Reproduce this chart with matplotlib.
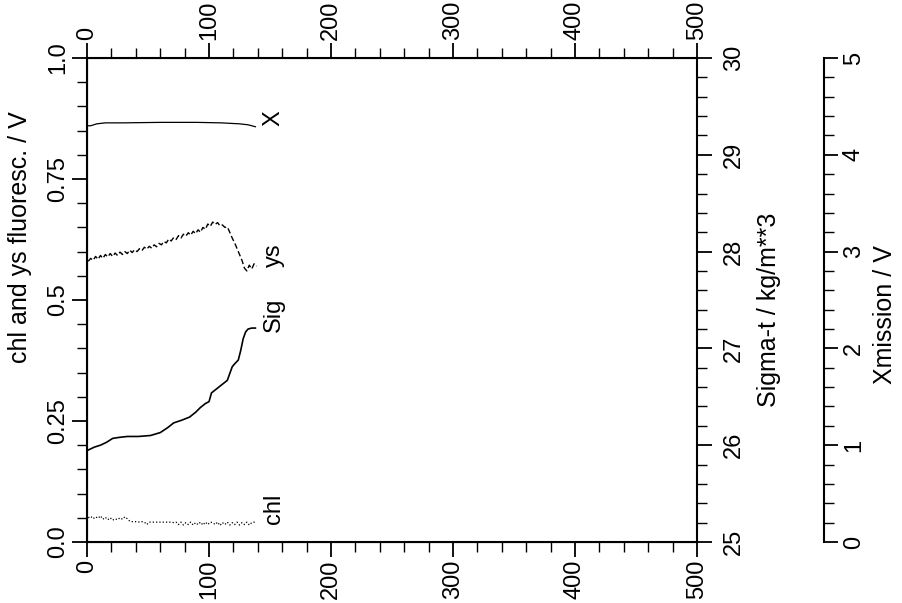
import matplotlib
matplotlib.use('Agg')
import matplotlib.pyplot as plt
from matplotlib.ticker import MultipleLocator

plt.rcParams['font.family'] = ['Liberation Sans', 'DejaVu Sans']
plt.rcParams['font.size'] = 17

# depth grid for the fluorescence traces (m)
depth = list(range(1, 140, 2))

ys = [0.580, 0.586, 0.582, 0.590, 0.584, 0.592, 0.586, 0.594, 0.589, 0.596,
      0.590, 0.597, 0.592, 0.599, 0.594, 0.600, 0.596, 0.603, 0.598, 0.604,
      0.600, 0.606, 0.602, 0.609, 0.605, 0.611, 0.607, 0.614, 0.610, 0.617,
      0.614, 0.621, 0.618, 0.626, 0.622, 0.629, 0.625, 0.633, 0.628, 0.636,
      0.632, 0.639, 0.634, 0.642, 0.637, 0.645, 0.640, 0.650, 0.646, 0.657,
      0.652, 0.661, 0.656, 0.660, 0.653, 0.655, 0.650, 0.651, 0.640, 0.628,
      0.618, 0.606, 0.594, 0.582, 0.566, 0.560, 0.572, 0.564, 0.575, 0.570]

chl = [0.050, 0.053, 0.048, 0.052, 0.049, 0.054, 0.047, 0.051, 0.046, 0.050,
       0.045, 0.048, 0.046, 0.050, 0.047, 0.052, 0.048, 0.043, 0.042, 0.042,
       0.042, 0.041, 0.042, 0.041, 0.036, 0.041, 0.041, 0.041, 0.041, 0.041,
       0.041, 0.041, 0.041, 0.041, 0.041, 0.040, 0.041, 0.036, 0.041, 0.035,
       0.040, 0.036, 0.041, 0.035, 0.040, 0.036, 0.041, 0.035, 0.041, 0.036,
       0.041, 0.040, 0.036, 0.041, 0.034, 0.040, 0.036, 0.041, 0.035, 0.040,
       0.036, 0.041, 0.035, 0.040, 0.036, 0.041, 0.035, 0.040, 0.041, 0.041]

sig_depth = [1, 6, 11, 16, 21, 26, 33, 42, 52, 60, 66, 71, 78, 84, 89, 93,
             97, 100, 102, 105, 110, 115, 117, 119, 121, 124, 126, 128, 130,
             132, 135, 138]
sig = [25.95, 25.98, 26.00, 26.03, 26.07, 26.08, 26.09, 26.09, 26.10, 26.13,
       26.18, 26.23, 26.26, 26.29, 26.34, 26.39, 26.43, 26.45, 26.54, 26.57,
       26.62, 26.67, 26.74, 26.81, 26.84, 26.88, 26.98, 27.10, 27.17, 27.20,
       27.21, 27.21]

x_depth = [0, 3, 8, 15, 30, 60, 90, 110, 125, 132, 138]
xmiss = [4.30, 4.30, 4.32, 4.33, 4.33, 4.335, 4.335, 4.33, 4.32, 4.31, 4.29]

left_ticks = [0, 0.25, 0.5, 0.75, 1.0]
left_labels = ['0.0', '0.25', '0.5', '0.75', '1.0']

fig = plt.figure(figsize=(9.02, 6.03), dpi=100)
ax = fig.add_axes([0.0965, 0.1012, 0.6762, 0.8026])

ax.plot(depth, chl, color='k', lw=0.9, ls=':')
ax.plot(depth, ys, color='k', lw=1.0, ls=(0, (4, 2)))

ax.set_xlim(0, 500)
ax.set_ylim(0, 1)
ax.xaxis.set_major_locator(MultipleLocator(100))
ax.xaxis.set_minor_locator(MultipleLocator(20))
ax.set_yticks(left_ticks)
ax.set_yticklabels(left_labels)
ax.yaxis.set_minor_locator(MultipleLocator(0.05))
ax.tick_params(axis='x', which='both', direction='out', top=True, bottom=True,
               labeltop=True, labelbottom=True, labelrotation=90, pad=2)
ax.tick_params(axis='y', which='both', direction='out', labelrotation=90, pad=2)
ax.tick_params(which='major', length=11, width=1.3)
ax.tick_params(which='minor', length=7, width=1)
for lab in ax.get_yticklabels():
    lab.set_va('center')
for s in ax.spines.values():
    s.set_linewidth(1.5)

# sigma-t on the right spine
ax2 = ax.twinx()
ax2.plot(sig_depth, sig, color='k', lw=1.2)
ax2.set_ylim(25, 30)
ax2.yaxis.set_major_locator(MultipleLocator(1))
ax2.yaxis.set_minor_locator(MultipleLocator(0.2))
ax2.tick_params(axis='y', which='both', direction='out', labelrotation=90, pad=8)
ax2.tick_params(which='major', length=11, width=1.3)
ax2.tick_params(which='minor', length=7, width=1)
for lab in ax2.get_yticklabels():
    lab.set_va('center')
ax2.spines['right'].set_linewidth(1.2)

# transmission, plotted on a hidden 0-5 scale
ax3 = ax.twinx()
ax3.plot(x_depth, xmiss, color='k', lw=0.9)
ax3.set_ylim(0, 5)
ax3.axis('off')

# separate transmission scale
ax4 = fig.add_axes([0.80, 0.1012, 0.913 - 0.80, 0.8026])
ax4.patch.set_visible(False)
for k in ['left', 'top', 'bottom']:
    ax4.spines[k].set_visible(False)
ax4.spines['right'].set_linewidth(1.5)
ax4.set_xticks([])
ax4.set_ylim(0, 5)
ax4.yaxis.tick_right()
ax4.yaxis.set_major_locator(MultipleLocator(1))
ax4.yaxis.set_minor_locator(MultipleLocator(0.2))
ax4.tick_params(axis='y', which='both', direction='out', labelrotation=90, pad=4)
ax4.tick_params(which='major', length=10, width=1.3)
ax4.tick_params(which='minor', length=7, width=1)
for lab in ax4.get_yticklabels():
    lab.set_va('center')

# curve labels
ax.text(153, 0.876, 'X', rotation=90, ha='center', va='center')
ax.text(153, 0.593, 'ys', rotation=90, ha='center', va='center')
ax.text(153, 0.470, 'Sig', rotation=90, ha='center', va='center')
ax.text(153, 0.068, 'chl', rotation=90, ha='center', va='center')

fig.text(0.022, 0.606, 'chl and ys fluoresc. / V', rotation=90, ha='center',
         va='center', fontsize=18)
fig.text(0.8525, 0.486, 'Sigma-t / kg/m**3', rotation=90, ha='center',
         va='center', fontsize=18)
fig.text(0.981, 0.478, 'Xmission / V', rotation=90, ha='center', va='center',
         fontsize=18)

fig.savefig('out.png', dpi=100)
